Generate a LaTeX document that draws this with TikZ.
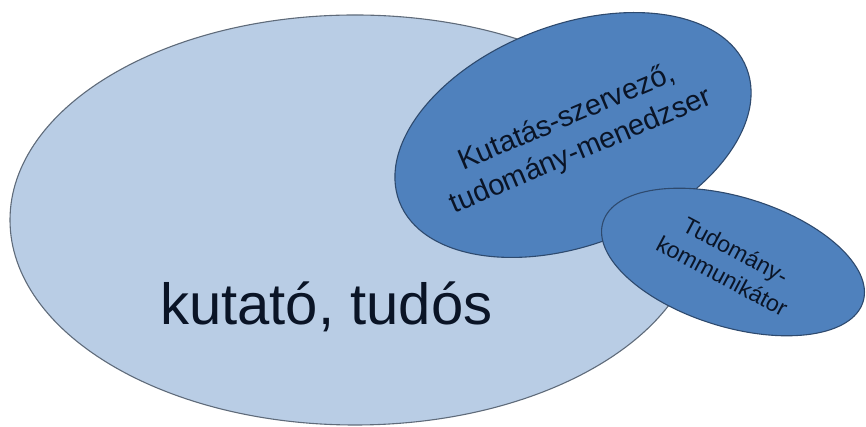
\documentclass[tikz,border=0pt]{standalone}
\usepackage{fontspec}
\setmainfont{Liberation Sans}
\usetikzlibrary{shapes.geometric}
\definecolor{bigfill}{HTML}{B9CDE5}
\definecolor{bigline}{HTML}{5F6B7A}
\definecolor{midfill}{HTML}{4F81BD}
\definecolor{midline}{HTML}{2E4A6E}
\definecolor{txt}{HTML}{0A1426}
\tikzset{
  blob/.style={ellipse, draw, line width=1.1pt, inner sep=0pt},
  bigblob/.style={blob, fill=bigfill, draw=bigline},
  midblob/.style={blob, fill=midfill, draw=midline},
  lbl/.style={text=txt, align=center, inner sep=0pt}
}
\begin{document}
\begin{tikzpicture}[x=1pt,y=1pt]
\useasboundingbox (0,0) rectangle (866,427);
\node[bigblob, minimum width=690pt, minimum height=410pt] (big) at (355,207) {};
\node[midblob, minimum width=372pt, minimum height=220pt, rotate=21] (mid) at (573,292) {};
\node[midblob, minimum width=272pt, minimum height=130pt, rotate=-17] (small) at (733,165) {};
\node[lbl, anchor=base west, font=\fontsize{58}{66}\selectfont] (bigt) at (160,102) {kutató, tudós};
\node[lbl, rotate=23, font=\fontsize{29}{36}\selectfont] (midt) at (574,292) {Kutatás-szervező,\\tudomány-menedzser};
\node[lbl, rotate=-28, font=\fontsize{23}{29}\selectfont] (smallt) at (729,164) {Tudomány-\\kommunikátor};
\end{tikzpicture}
\end{document}
